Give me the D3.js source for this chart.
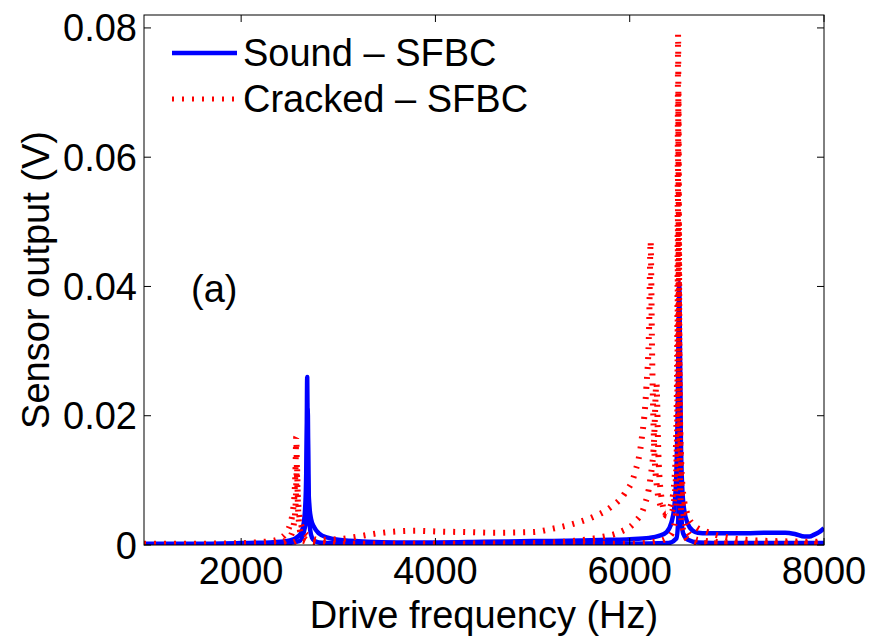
<!DOCTYPE html>
<html><head><meta charset="utf-8">
<script src="https://cdn.jsdelivr.net/npm/d3@7/dist/d3.min.js"></script>
<style>body{margin:0;background:#fff}svg{display:block}text{font-family:"Liberation Sans",Arial,Helvetica,sans-serif}</style>
</head><body>
<script>
// ---- data ----
const xTicks = [2000, 4000, 6000, 8000];
const yTicks = [0, 0.02, 0.04, 0.06, 0.08];
const yTickLabels = ["0", "0.02", "0.04", "0.06", "0.08"];
const seriesNames = ["Sound \u2013 SFBC", "Cracked \u2013 SFBC"];

const soundFreqA = [1000,1500,2000,2300,2500,2600,2640,2660,2670,2676,2680,2684,2690,2700,2720,2750,2800,2900,3000,3300,3600,4000,4500,5000,5500,5800,6000,6200,6300,6380,6430,6460,6480,6495,6505,6510,6515,6525,6540,6560,6600,6650,6700,6800,7000,7200,7400,7500,7600,7700,7800,7850,7900,7950,8000];
const soundValA  = [0.0002,0.0002,0.0003,0.0004,0.0007,0.0015,0.003,0.006,0.011,0.019,0.026,0.019,0.011,0.0065,0.004,0.0028,0.0018,0.0011,0.0008,0.0005,0.0004,0.0004,0.0005,0.0006,0.0007,0.0008,0.0009,0.0011,0.0014,0.002,0.0035,0.006,0.011,0.022,0.036,0.0405,0.034,0.018,0.009,0.0055,0.0032,0.0022,0.0019,0.0018,0.0018,0.0018,0.0019,0.0019,0.0019,0.0017,0.0013,0.0013,0.0016,0.002,0.0026];

const soundFreqB = [1000,2000,2400,2600,2660,2675,2683,2687,2692,2700,2712,2730,2760,2800,2900,3200,4000,5000,6000,6400,6480,6500,6508,6514,6520,6530,6550,6600,6700,7000,8000];
const soundValB  = [0.0001,0.0001,0.0002,0.0006,0.003,0.009,0.021,0.02,0.011,0.005,0.0022,0.0011,0.0006,0.0004,0.0003,0.0002,0.0002,0.0002,0.0002,0.0003,0.001,0.004,0.016,0.033,0.014,0.005,0.0018,0.0008,0.0004,0.0003,0.0003];

const crackedFreqA = [1000,1500,2000,2300,2400,2460,2500,2530,2550,2560,2567,2575,2590,2620,2680,2800,3000,3200,3400,3600,3800,4000,4300,4600,5000,5200,5400,5600,5800,5950,6050,6120,6170,6200,6215,6230,6250,6280,6320,6370,6420,6460,6480,6492,6498,6505,6520,6550,6600,6650,6700,6800,6900,7000,7200,7500,8000];
const crackedValA  = [0.0002,0.0002,0.0003,0.0006,0.001,0.0018,0.003,0.005,0.008,0.012,0.0167,0.011,0.006,0.003,0.0015,0.0008,0.0009,0.0013,0.0018,0.0021,0.0022,0.0021,0.002,0.0019,0.002,0.0025,0.0032,0.0042,0.0058,0.008,0.011,0.016,0.024,0.034,0.047,0.03,0.016,0.009,0.006,0.005,0.006,0.01,0.018,0.04,0.079,0.045,0.018,0.008,0.0045,0.0032,0.0026,0.002,0.0015,0.0012,0.0008,0.0006,0.0005];

const crackedFreqB = [1000,2000,2400,2500,2540,2560,2575,2585,2610,2700,3000,4000,5000,5400,5700,5900,6050,6150,6210,6250,6275,6295,6330,6380,6430,6470,6490,6502,6512,6530,6560,6620,6700,7000,8000];
const crackedValB  = [0.0001,0.0001,0.0004,0.0012,0.003,0.006,0.012,0.006,0.002,0.0006,0.0002,0.0002,0.0003,0.0006,0.0012,0.002,0.0035,0.006,0.01,0.016,0.025,0.014,0.007,0.0045,0.005,0.009,0.02,0.07,0.03,0.01,0.004,0.0015,0.0008,0.0004,0.0003];

const crackedFreqC = [1000,2400,2550,2600,2700,3000,6000,6300,6420,6470,6495,6505,6515,6540,6600,6700,8000];
const crackedValC  = [0.0001,0.0001,0.0005,0.0008,0.0004,0.0001,0.0002,0.0006,0.0015,0.004,0.012,0.05,0.012,0.003,0.0008,0.0003,0.0001];

// ---- layout ----
const W = 874, H = 641;
const m = {left:144, right:50, top:15, bottom:96};
const pw = W - m.left - m.right, ph = H - m.top - m.bottom;

const svg = d3.select("body").append("svg").attr("width", W).attr("height", H);
const x = d3.scaleLinear().domain([1000, 8000]).range([m.left, m.left + pw]);
const y = d3.scaleLinear().domain([0, 0.082]).range([m.top + ph, m.top]);

svg.append("clipPath").attr("id","clip").append("rect")
  .attr("x", m.left).attr("y", m.top).attr("width", pw).attr("height", ph);

const line = d3.line().x(d => x(d[0])).y(d => y(d[1])).curve(d3.curveMonotoneX);
const zip = (f, v) => f.map((fi, i) => [fi, v[i]]);

const g = svg.append("g").attr("clip-path", "url(#clip)");
const blue = "#0000ff", red = "#ff0000";
[[soundFreqA, soundValA], [soundFreqB, soundValB]].forEach(([f, v]) => {
  g.append("path").attr("d", line(zip(f, v))).attr("fill","none")
   .attr("stroke", blue).attr("stroke-width", 4.5).attr("stroke-linejoin","round");
});
[[crackedFreqA, crackedValA], [crackedFreqB, crackedValB], [crackedFreqC, crackedValC]].forEach(([f, v]) => {
  g.append("path").attr("d", line(zip(f, v))).attr("fill","none")
   .attr("stroke", red).attr("stroke-width", 6).attr("stroke-dasharray", "2,8");
});

// ---- axes frame and ticks ----
const fr = svg.append("g");
fr.append("rect").attr("x", m.left).attr("y", m.top).attr("width", pw).attr("height", ph)
  .attr("fill","none").attr("stroke","#000").attr("stroke-width",1);
const tl = 7;
xTicks.forEach(t => {
  fr.append("line").attr("x1", x(t)).attr("x2", x(t)).attr("y1", m.top+ph).attr("y2", m.top+ph-tl).attr("stroke","#000");
  fr.append("line").attr("x1", x(t)).attr("x2", x(t)).attr("y1", m.top).attr("y2", m.top+tl).attr("stroke","#000");
  fr.append("text").attr("x", x(t)).attr("y", 584).attr("text-anchor","middle")
    .attr("font-size", 38).text(t);
});
yTicks.forEach((t, i) => {
  fr.append("line").attr("x1", m.left).attr("x2", m.left+tl).attr("y1", y(t)).attr("y2", y(t)).attr("stroke","#000");
  fr.append("line").attr("x1", m.left+pw).attr("x2", m.left+pw-tl).attr("y1", y(t)).attr("y2", y(t)).attr("stroke","#000");
  fr.append("text").attr("x", 137).attr("y", y(t) + 13.5).attr("text-anchor","end")
    .attr("font-size", 38).text(yTickLabels[i]);
});

// axis titles
svg.append("text").attr("x", m.left + pw/2).attr("y", 628).attr("text-anchor","middle")
  .attr("font-size", 38).text("Drive frequency (Hz)");
svg.append("text").attr("transform", `translate(49,${m.top + ph/2}) rotate(-90)`)
  .attr("text-anchor","middle").attr("font-size", 38).text("Sensor output (V)");

// annotation
svg.append("text").attr("x", 191).attr("y", 302).attr("font-size", 38).text("(a)");

// legend
svg.append("line").attr("x1",172).attr("x2",237).attr("y1",53).attr("y2",53)
  .attr("stroke", blue).attr("stroke-width", 4.5);
svg.append("line").attr("x1",172).attr("x2",237).attr("y1",99).attr("y2",99)
  .attr("stroke", red).attr("stroke-width", 5).attr("stroke-dasharray","2,8");
svg.append("text").attr("x", 243).attr("y", 66).attr("font-size", 38).text(seriesNames[0]);
svg.append("text").attr("x", 243).attr("y", 112).attr("font-size", 38).text(seriesNames[1]);
</script>
</body></html>
